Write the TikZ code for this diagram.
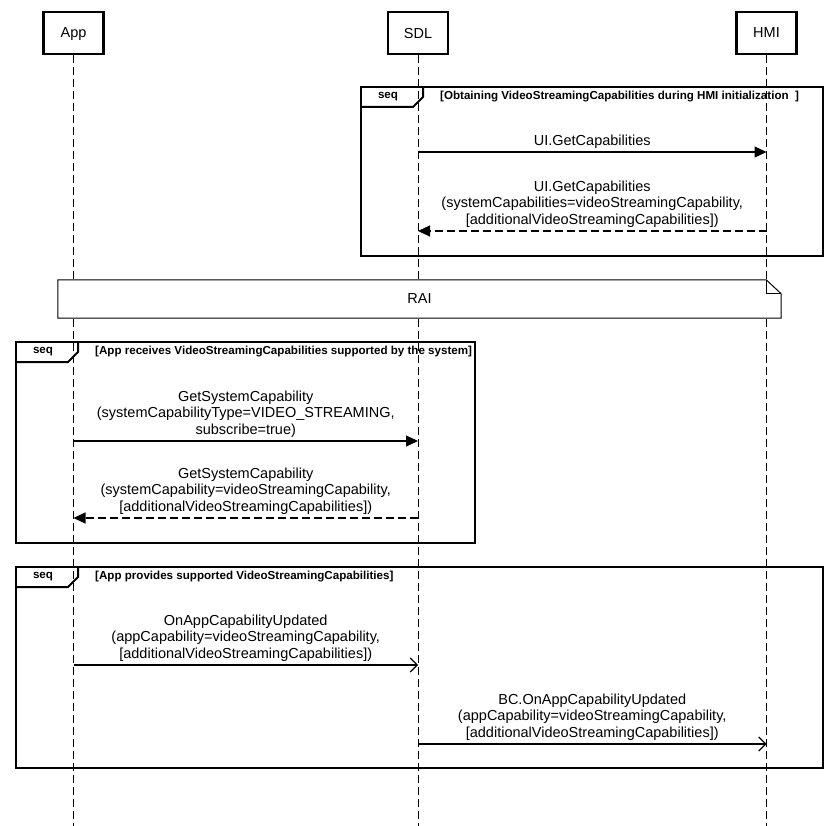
\documentclass[tikz,border=0pt]{standalone}
\usepackage{fontspec}
\setmainfont{Liberation Sans}
\usetikzlibrary{arrows.meta}

\begin{document}
\begin{tikzpicture}[x=1pt,y=-1pt,
    font=\fontsize{14.5}{16.5}\selectfont,
    actor/.style={draw,line width=2.6pt,minimum width=60pt,minimum height=42pt,inner sep=0pt,text depth=0pt},
    lifeline/.style={line width=1pt,dash pattern=on 8pt off 4pt},
    frame/.style={line width=2pt},
    title/.style={font=\fontsize{11.6}{13}\selectfont\bfseries,inner sep=0pt},
    sync/.style={line width=1.1pt,-{Triangle[length=12pt,width=11pt]}},
    reply/.style={sync,dash pattern=on 8pt off 4pt},
    async/.style={line width=1.1pt,-{Straight Barb[length=7pt,width=14pt]}},
    lbl/.style={midway,above,align=center,inner sep=3pt}]
  \useasboundingbox (0,0) rectangle (840,826);

  \node[actor] (app) at (73.5,33) {App};
  \node[actor] (sdl) at (418,33) {SDL};
  \node[actor] (hmi) at (766.5,33) {HMI};
  \foreach \a in {app,sdl,hmi} {
    \coordinate (\a-end) at (\a.south |- 0,826);
    \draw[lifeline] (\a.south) -- (\a-end);
  }

  % combined fragments
  \foreach \l/\t/\r/\b/\txt [count=\i] in {
      361/87/823/256/{[Obtaining VideoStreamingCapabilities during HMI initialization\ \ ]},
      16/342/475/543/{[App receives VideoStreamingCapabilities supported by the system]},
      16/567/823/768/{[App provides supported VideoStreamingCapabilities]}} {
    \draw[frame] (\l,\t) rectangle (\r,\b);
    \draw[frame] (\l,\t+20) -- (\l+52,\t+20) -- (\l+62,\t+10) -- (\l+62,\t);
    \node[title] (seq\i) at (\l+27,\t+10) {seq};
    \node[title,anchor=west] (guard\i) at (\l+79,\t+10) {\txt};
  }

  % note
  \node[minimum width=723pt,minimum height=38pt,inner sep=0pt] (rai) at (419.5,299) {};
  \draw[line width=1pt,fill=white] (rai.north west) -- ([xshift=-15pt]rai.north east)
    -- ([yshift=-14pt]rai.north east) -- (rai.south east) -- (rai.south west) -- cycle;
  \draw[line width=1pt] ([xshift=-15pt]rai.north east) -- ([xshift=-15pt,yshift=-14pt]rai.north east)
    -- ([yshift=-14pt]rai.north east);
  \node (raitext) at (rai.center) {RAI};

  % messages
  \coordinate (sdl-m1) at (418,152);
  \coordinate (hmi-m1) at (766.5,152);
  \draw[sync] (sdl-m1) -- (hmi-m1) node[lbl] {UI.GetCapabilities};
  \coordinate (hmi-m2) at (766.5,231);
  \coordinate (sdl-m2) at (418,231);
  \draw[reply] (hmi-m2) -- (sdl-m2) node[lbl] {UI.GetCapabilities\\(systemCapabilities=videoStreamingCapability,\\{}[additionalVideoStreamingCapabilities])};

  \coordinate (app-m3) at (73.5,441);
  \coordinate (sdl-m3) at (418,441);
  \draw[sync] (app-m3) -- (sdl-m3) node[lbl] {GetSystemCapability\\(systemCapabilityType=VIDEO\_STREAMING,\\subscribe=true)};
  \coordinate (sdl-m4) at (418,518);
  \coordinate (app-m4) at (73.5,518);
  \draw[reply] (sdl-m4) -- (app-m4) node[lbl] {GetSystemCapability\\(systemCapability=videoStreamingCapability,\\{}[additionalVideoStreamingCapabilities])};

  \coordinate (app-m5) at (73.5,665);
  \coordinate (sdl-m5) at (418,665);
  \draw[async] (app-m5) -- (sdl-m5) node[lbl] {OnAppCapabilityUpdated\\(appCapability=videoStreamingCapability,\\{}[additionalVideoStreamingCapabilities])};
  \coordinate (sdl-m6) at (418,744);
  \coordinate (hmi-m6) at (766.5,744);
  \draw[async] (sdl-m6) -- (hmi-m6) node[lbl] {BC.OnAppCapabilityUpdated\\(appCapability=videoStreamingCapability,\\{}[additionalVideoStreamingCapabilities])};
\end{tikzpicture}
\end{document}
